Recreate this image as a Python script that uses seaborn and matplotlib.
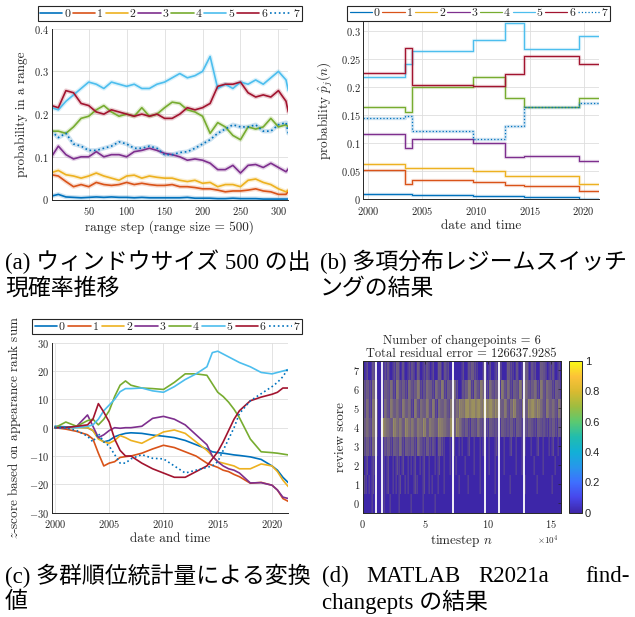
import numpy as np
import seaborn as sns
import matplotlib.pyplot as plt
import matplotlib.cm as cm
from matplotlib.colors import LinearSegmentedColormap
from matplotlib.ticker import FuncFormatter

sns.set_theme(style="whitegrid")
plt.rcParams["font.family"] = ["cmr10", "DejaVu Serif"]
plt.rcParams["mathtext.fontset"] = "cm"
plt.rcParams["axes.unicode_minus"] = False

# review scores and their MATLAB-like colours
scores = ["0", "1", "2", "3", "4", "5", "6", "7"]
score_colors = ["#0072BD", "#D95319", "#EDB120", "#7E2F8E", "#77AC30", "#4DBEEE", "#A2142F", "#0072BD"]
score_styles = ["-", "-", "-", "-", "-", "-", "-", ":"]

# (a) appearance probability per range step (range size 500)
steps_a = [1, 10, 20, 30, 40, 50, 60, 70, 80, 90, 100, 110, 120, 130, 140, 150, 160,
           170, 180, 190, 200, 210, 220, 230, 240, 250, 260, 270, 280, 290, 300, 310, 313]
prob_a0 = [0.008, 0.012, 0.006, 0.005, 0.004, 0.005, 0.006, 0.005, 0.006, 0.005, 0.005,
           0.004, 0.005, 0.004, 0.004, 0.004, 0.004, 0.004, 0.005, 0.003, 0.003,
           0.003, 0.002, 0.002, 0.003, 0.002, 0.002, 0.002, 0.001, 0.001, 0.001, 0.001, 0.001]
prob_a1 = [0.058, 0.055, 0.042, 0.03, 0.035, 0.03, 0.04, 0.035, 0.033, 0.035, 0.04,
           0.035, 0.038, 0.035, 0.033, 0.033, 0.035, 0.03, 0.03, 0.028, 0.025,
           0.025, 0.022, 0.018, 0.02, 0.02, 0.022, 0.025, 0.02, 0.018, 0.012, 0.012, 0.02]
prob_a2 = [0.063, 0.068, 0.058, 0.055, 0.05, 0.055, 0.062, 0.055, 0.05, 0.045, 0.055,
           0.057, 0.05, 0.055, 0.052, 0.05, 0.05, 0.045, 0.042, 0.045, 0.038,
           0.04, 0.03, 0.035, 0.035, 0.03, 0.045, 0.048, 0.04, 0.035, 0.025, 0.018, 0.022]
prob_a3 = [0.10, 0.125, 0.105, 0.095, 0.10, 0.10, 0.112, 0.10, 0.105, 0.105, 0.10,
           0.112, 0.115, 0.12, 0.115, 0.108, 0.105, 0.10, 0.092, 0.095, 0.092,
           0.085, 0.07, 0.07, 0.08, 0.062, 0.08, 0.082, 0.075, 0.085, 0.075, 0.065, 0.072]
prob_a4 = [0.16, 0.16, 0.155, 0.17, 0.19, 0.195, 0.21, 0.22, 0.205, 0.195, 0.20,
           0.195, 0.215, 0.195, 0.20, 0.215, 0.228, 0.225, 0.21, 0.205, 0.195,
           0.155, 0.18, 0.17, 0.15, 0.14, 0.17, 0.165, 0.17, 0.19, 0.17, 0.175, 0.17]
prob_a5 = [0.215, 0.21, 0.23, 0.245, 0.26, 0.275, 0.27, 0.26, 0.275, 0.27, 0.265,
           0.27, 0.26, 0.26, 0.27, 0.275, 0.285, 0.295, 0.285, 0.29, 0.30,
           0.335, 0.26, 0.27, 0.26, 0.275, 0.27, 0.28, 0.27, 0.285, 0.30, 0.28, 0.255]
prob_a6 = [0.22, 0.215, 0.255, 0.25, 0.225, 0.22, 0.205, 0.20, 0.21, 0.205, 0.20,
           0.195, 0.20, 0.195, 0.20, 0.19, 0.19, 0.20, 0.215, 0.21, 0.215,
           0.225, 0.265, 0.27, 0.27, 0.275, 0.25, 0.24, 0.245, 0.24, 0.255, 0.23, 0.205]
prob_a7 = [0.16, 0.145, 0.155, 0.13, 0.125, 0.115, 0.115, 0.12, 0.125, 0.135, 0.13,
           0.12, 0.12, 0.125, 0.12, 0.105, 0.105, 0.11, 0.112, 0.12, 0.13,
           0.14, 0.155, 0.165, 0.175, 0.17, 0.17, 0.175, 0.16, 0.16, 0.175, 0.18, 0.155]
probs_a = [prob_a0, prob_a1, prob_a2, prob_a3, prob_a4, prob_a5, prob_a6, prob_a7]

# (b) regime switching: segment edges (years) and probability per segment
edges_b = [1999.5, 2003.4, 2004.1, 2009.7, 2012.7, 2014.5, 2019.6, 2021.5]
prob_b0 = [0.010, 0.009, 0.007, 0.006, 0.005, 0.004, 0.001]
prob_b1 = [0.053, 0.028, 0.035, 0.030, 0.026, 0.023, 0.015]
prob_b2 = [0.063, 0.056, 0.056, 0.050, 0.041, 0.042, 0.028]
prob_b3 = [0.117, 0.091, 0.108, 0.100, 0.075, 0.078, 0.069]
prob_b4 = [0.165, 0.155, 0.200, 0.218, 0.181, 0.164, 0.181]
prob_b5 = [0.219, 0.241, 0.265, 0.284, 0.315, 0.268, 0.291]
prob_b6 = [0.226, 0.270, 0.204, 0.202, 0.224, 0.256, 0.241]
prob_b7 = [0.146, 0.149, 0.122, 0.108, 0.130, 0.164, 0.171]
probs_b = [prob_b0, prob_b1, prob_b2, prob_b3, prob_b4, prob_b5, prob_b6, prob_b7]

# (c) z-score of appearance rank sum
years_c = [2000, 2001, 2002, 2003, 2003.5, 2004, 2004.5, 2005, 2005.5, 2006, 2006.5, 2007,
           2008, 2009, 2010, 2011, 2012, 2013, 2014, 2014.5, 2015, 2015.5, 2016, 2016.5,
           2017, 2018, 2019, 2020, 2020.5, 2021, 2021.5]
z_c0 = [0.5, 0.3, 0.2, 0, -1, -3.5, -5, -4.5, -3.2, -2.5, -2, -1.8, -2, -2.6, -3, -3.5,
        -4.5, -6, -7.5, -8.5, -8.8, -9, -9.3, -9.6, -9.8, -10.3, -11.2, -13.5, -15, -17.5, -19.4]
z_c1 = [0, -0.5, -1.3, -2.5, -4, -9, -13.5, -12.5, -12, -10.5, -10.2, -10, -9, -7.5, -6.2, -7,
        -8.5, -10, -12.5, -13.3, -14, -15, -15.5, -16.5, -17.3, -19.6, -19.3, -20.3, -22, -25, -26]
z_c2 = [0, 0, 0, 0, -1, -4, -5, -5.5, -4.5, -2.8, -3.5, -4.5, -5.5, -3.5, -1.5, -0.8,
        -2, -5, -8, -10, -12, -12.5, -13, -13.5, -14.5, -14.5, -12.8, -13.5, -15.5, -18.5, -20.8]
z_c3 = [0, 0, 0.5, 4.5, 0.5, -3.5, -2.5, -1, 0, -0.2, 0, 0, 0.5, 3.3, 4, 3,
        1, -2.5, -6, -10, -12, -13.5, -14.5, -15, -16, -19.5, -19.4, -20.3, -22, -24.5, -25]
z_c4 = [0, 2, 0.5, 2.5, 3, 1, 3, 6, 11, 15, 16.5, 15, 14, 13.8, 13.5, 16,
        19, 19, 18.5, 15.5, 12.5, 11, 9, 6.5, 3.5, -4, -8.5, -8.8, -9, -9.3, -9.6]
z_c5 = [0, 0, 0, 0.5, 1, 3, 6, 8, 10, 12.7, 13.8, 13.8, 14, 13, 12.5, 14.5,
        17, 19, 21.5, 26.5, 27, 26, 25, 24, 23, 21.5, 19.5, 19, 19.5, 20, 20.5]
z_c6 = [0, 0, 0.5, 1, 3, 8.5, 5.5, 2, -4, -8, -10, -10, -12.5, -14.5, -16, -17.5,
        -17.5, -15.5, -13.5, -11, -8.5, -5, -1, 3, 6, 9.5, 10.8, 11.8, 12.5, 14, 14]
z_c7 = [0, 0, -1, -3, -5, -2, -5, -6.5, -9.5, -12.5, -12.5, -11, -9.5, -10.8, -11, -13.5,
        -16, -15, -14, -13.5, -12, -8, -4, 0, 5, 9.5, 12, 14.5, 16, 18, 21]
z_c = [z_c0, z_c1, z_c2, z_c3, z_c4, z_c5, z_c6, z_c7]

# (d) findchangepts: streak density per review score (0-9 per block of timesteps)
n_total = 158000
heat_rows = [
    "10010001010" "01000100010" "00100000000" "00000000000" "00000000000" "00000000000",  # 0
    "21120001201" "12011021020" "11010100101" "00100010000" "10000100001" "00010000100",  # 1
    "12021001201" "21201120120" "10120101010" "01001010010" "10010001010" "00100100010",  # 2
    "34253003424" "35243425324" "23142101201" "10201012010" "21010201021" "01020101201",  # 3
    "45364086547" "56475646574" "65476548475" "34243534243" "32433424323" "43243323424",  # 4
    "35264005364" "53645263546" "36254536457" "68787868786" "75463574364" "78675364536",  # 5
    "34253004352" "63425346235" "42536243520" "34625364253" "42635243625" "34526354243",  # 6
    "12031002302" "41302314023" "12041320000" "20342103120" "23104213024" "13204312302",  # 7
]
changepoints = [10800, 15600, 71800, 97700, 109100, 129000]
residual_error = "126637.9285"

parula = LinearSegmentedColormap.from_list("parula", [
    (0.2422, 0.1504, 0.6603), (0.2803, 0.2782, 0.9221), (0.2440, 0.4358, 0.9988),
    (0.1540, 0.5902, 0.9218), (0.0700, 0.6900, 0.8400), (0.1300, 0.7400, 0.6800),
    (0.3600, 0.7900, 0.4400), (0.6200, 0.7400, 0.2500), (0.8500, 0.7300, 0.1900),
    (0.9900, 0.7600, 0.2200), (0.9769, 0.9839, 0.0805)])

W, H = 635, 617
fig = plt.figure(figsize=(W / 100, H / 100), dpi=100)
ink = "#262626"


def box(l, t, r, b):
    return [l / W, 1 - b / H, (r - l) / W, (b - t) / H]


mfmt = FuncFormatter(lambda v, p: r"$\mathrm{%g}$" % v)


def style(ax):
    ax.grid(True, color="#dedede", lw=0.6)
    ax.set_axisbelow(True)
    for s in ["top", "right"]:
        ax.spines[s].set_visible(False)
    for s in ["left", "bottom"]:
        ax.spines[s].set_color(ink)
        ax.spines[s].set_linewidth(0.7)
    ax.tick_params(direction="in", length=2.5, width=0.5, labelsize=7.5, colors=ink, pad=2)
    ax.tick_params(axis="x", pad=4)
    ax.xaxis.set_major_formatter(mfmt)
    ax.yaxis.set_major_formatter(mfmt)


def legend(ax, handles, l, t, r, b):
    x0, y0, w, h = box(l, t, r, b)
    lg = ax.legend(handles, scores, loc="center", bbox_to_anchor=(x0, y0, w, h),
                   bbox_transform=fig.transFigure, ncol=8, mode="expand", fontsize=8.5,
                   handlelength=1.9, handletextpad=0.15, columnspacing=0.3, borderpad=0.2,
                   borderaxespad=0, fancybox=False, framealpha=1)
    lg.get_frame().set_edgecolor(ink)
    lg.get_frame().set_linewidth(0.8)


# (a)
ax_a = fig.add_axes(box(51.5, 28.7, 288.3, 199.5))
handles = []
for k in range(8):
    sns.lineplot(x=steps_a, y=probs_a[k], ax=ax_a, color=score_colors[k], lw=3.2, alpha=0.2)
for k in range(8):
    sns.lineplot(x=steps_a, y=probs_a[k], ax=ax_a, color=score_colors[k], lw=1.2,
                 ls=score_styles[k])
    handles.append(ax_a.lines[-1])
ax_a.set_xlim(1, 313)
ax_a.set_ylim(0, 0.4)
ax_a.set_xticks([50, 100, 150, 200, 250, 300])
ax_a.set_yticks([0, 0.1, 0.2, 0.3, 0.4])
style(ax_a)
ax_a.set_xlabel("range step (range size = 500)", fontsize=9.5, labelpad=2)
ax_a.set_ylabel("probability in a range", fontsize=9.5, labelpad=4)
legend(ax_a, handles, 37.7, 6, 302, 21)

# (b)
ax_b = fig.add_axes(box(363.3, 21.7, 599.3, 199.3))
handles = []
for k in range(8):
    vals = probs_b[k] + [probs_b[k][-1]]
    sns.lineplot(x=edges_b, y=vals, ax=ax_b, color=score_colors[k], lw=2.4, alpha=0.18,
                 drawstyle="steps-post")
    sns.lineplot(x=edges_b, y=vals, ax=ax_b, color=score_colors[k], lw=0.9,
                 ls=score_styles[k], drawstyle="steps-post")
    handles.append(ax_b.lines[-1])
ax_b.set_xlim(1999.55, 2021.45)
ax_b.set_ylim(0, 0.317)
ax_b.set_xticks([2000, 2005, 2010, 2015, 2020])
ax_b.set_yticks([0, 0.05, 0.1, 0.15, 0.2, 0.25, 0.3])
style(ax_b)
ax_b.set_xlabel("date and time", fontsize=9.5, labelpad=2)
ax_b.set_ylabel(r"probability $\hat{p}_j(n)$", fontsize=9.5, labelpad=4)
legend(ax_b, handles, 347.3, 6, 610, 20.7)

# (c)
ax_c = fig.add_axes(box(51.7, 342.7, 288.3, 512.7))
handles = []
for k in range(8):
    sns.lineplot(x=years_c, y=z_c[k], ax=ax_c, color=score_colors[k], lw=1.2,
                 ls=score_styles[k])
    handles.append(ax_c.lines[-1])
ax_c.set_xlim(1999.7, 2021.5)
ax_c.set_ylim(-30, 30)
ax_c.set_xticks([2000, 2005, 2010, 2015, 2020])
ax_c.set_yticks([-30, -20, -10, 0, 10, 20, 30])
style(ax_c)
ax_c.set_xlabel("date and time", fontsize=9.5, labelpad=2)
ax_c.set_ylabel(r"$z$-score based on appearance rank sum", fontsize=9.5, labelpad=4)
legend(ax_c, handles, 32.3, 319.3, 301.7, 334)

# (d)
levels = np.array([[int(ch) for ch in row] for row in heat_rows])
n_blocks = levels.shape[1]
sub = 16
fine = np.zeros((8, n_blocks * sub))
for r in range(8):
    for c in range(n_blocks):
        lv = levels[r, c]
        for j in range(lv):
            fine[r, c * sub + (j * sub) // lv] = 1.0
img = np.repeat(fine, 20, axis=0)

ax_d = fig.add_axes(box(362.7, 361, 560.7, 512.7))
ax_d.imshow(img, origin="lower", aspect="auto", cmap=parula, vmin=0, vmax=1,
            extent=[0, n_total, -0.5, 7.5], interpolation="antialiased",
            interpolation_stage="rgba")
for cp in changepoints:
    ax_d.axvline(cp, color="white", lw=1.3)
ax_d.grid(False)
for s in ax_d.spines.values():
    s.set_color(ink)
    s.set_linewidth(0.7)
ax_d.set_xlim(0, n_total)
ax_d.set_xticks([0, 50000, 100000, 150000])
ax_d.set_xticklabels([r"$\mathrm{0}$", r"$\mathrm{5}$", r"$\mathrm{10}$", r"$\mathrm{15}$"])
ax_d.set_yticks(range(8))
ax_d.yaxis.set_major_formatter(mfmt)
ax_d.tick_params(direction="in", length=2.5, width=0.5, labelsize=7.5, colors=ink, pad=2,
                 top=True, right=True)
ax_d.tick_params(axis="x", pad=4)
ax_d.set_xlabel(r"timestep $n$", fontsize=9.5, labelpad=2)
ax_d.set_ylabel("review score", fontsize=9.5, labelpad=4)
ax_d.set_title("Number of changepoints = %d\nTotal residual error = %s"
               % (len(changepoints), residual_error), fontsize=9, pad=3, linespacing=1.1)
fig.text(548 / W, 1 - 540 / H, r"$\times10^{4}$", fontsize=6.5, ha="center", va="center",
         color=ink)

cax = fig.add_axes(box(569, 361, 582, 512.7))
cb = fig.colorbar(cm.ScalarMappable(norm=plt.Normalize(0, 1), cmap=parula), cax=cax)
cb.set_ticks([0, 0.2, 0.4, 0.6, 0.8, 1])
cb.set_ticklabels(["0", "0.2", "0.4", "0.6", "0.8", "1"])
cb.outline.set_edgecolor(ink)
cb.outline.set_linewidth(0.7)
cax.tick_params(direction="in", length=3, width=0.5, labelsize=8, colors=ink, pad=2)
for t in cax.get_yticklabels():
    t.set_family(["Liberation Sans", "DejaVu Sans"])

# sub-figure captions
cap_font = ["Liberation Serif", "Noto Sans CJK JP"]


def caption(x, y, s, ha="left"):
    fig.text(x / W, 1 - y / H, s, family=cap_font, fontsize=16.5, va="center", ha=ha,
             color="black")


caption(5, 262, "(a) ウィンドウサイズ 500 の出")
caption(5, 289, "現確率推移")
caption(320, 262, "(b) 多項分布レジームスイッチ")
caption(320, 289, "ングの結果")
caption(5, 576, "(c) 多群順位統計量による変換")
caption(5, 602, "値")
caption(322, 576, "(d)")
caption(366, 576, "MATLAB")
caption(478, 576, "R2021a")
caption(630, 576, "find-", ha="right")
caption(322, 602, "changepts の結果")

fig.savefig("out.png", dpi=100)
